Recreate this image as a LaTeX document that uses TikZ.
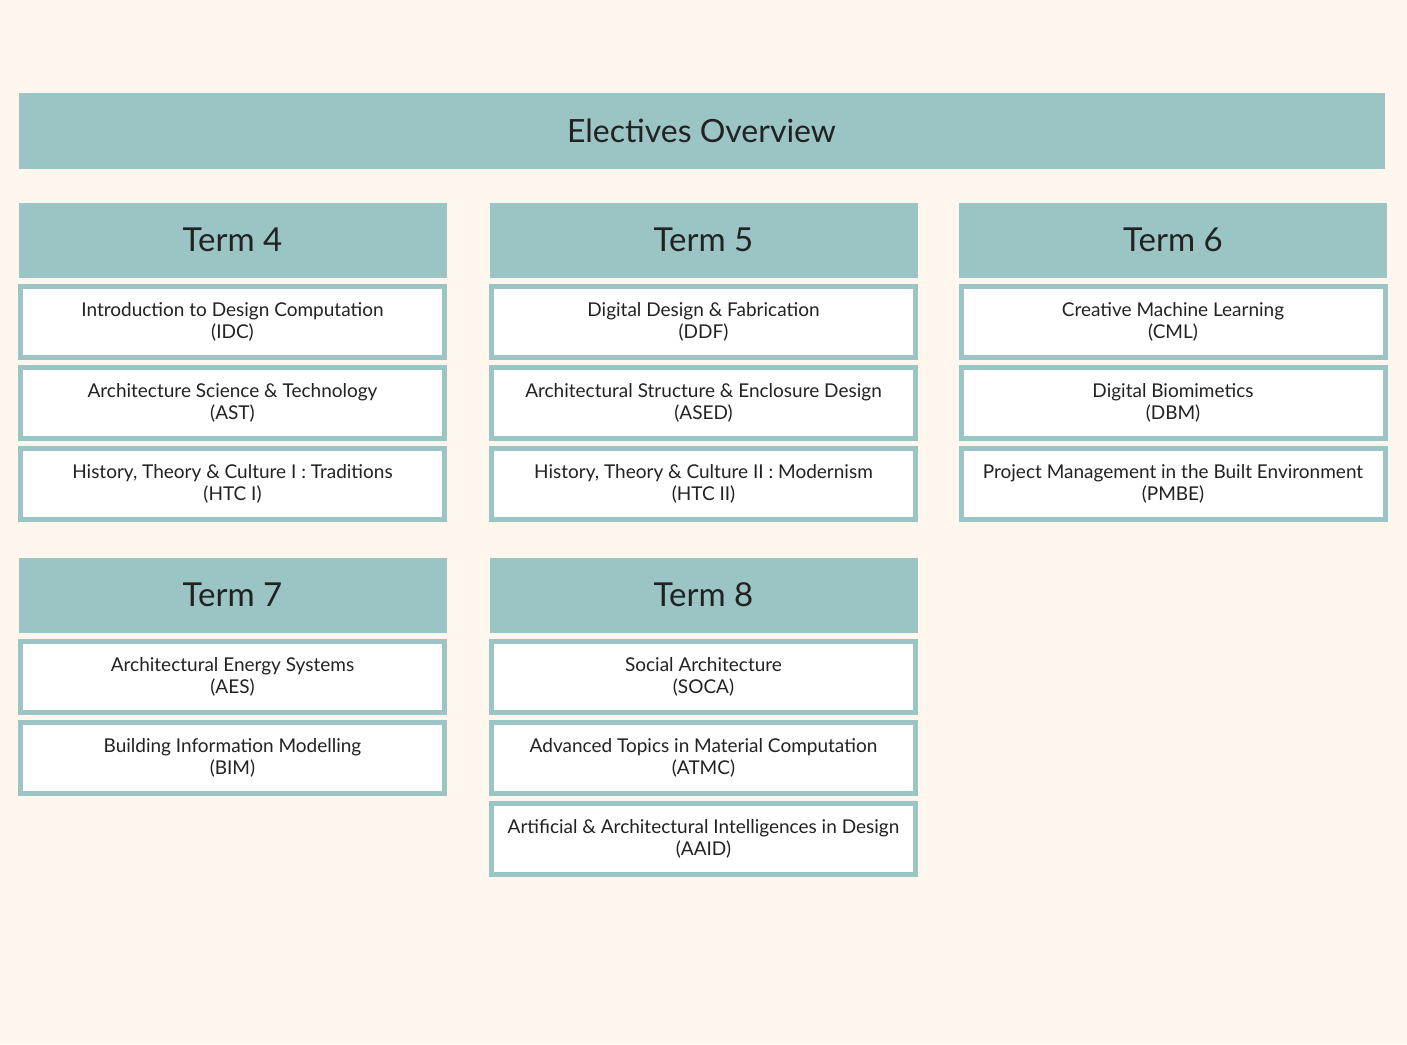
\documentclass[tikz,border=0pt]{standalone}
\usepackage{fontspec}
\setmainfont{Lato}
\definecolor{tealbox}{RGB}{154,197,196}
\definecolor{cream}{RGB}{255,247,238}
\definecolor{ink}{RGB}{34,34,34}
\tikzstyle{title}=[fill=tealbox, draw=cream, line width=1pt, minimum width=1367pt, minimum height=77pt, inner sep=0pt, text=ink, font=\fontsize{32}{38}\selectfont]
\tikzstyle{term}=[fill=tealbox, draw=cream, line width=1pt, minimum width=429pt, minimum height=76pt, inner sep=0pt, text=ink, font=\fontsize{33}{38}\selectfont]
\tikzstyle{course}=[fill=white, draw=tealbox, line width=5pt, minimum width=424pt, minimum height=71pt, inner sep=0pt, align=center, text=ink, font=\fontsize{19}{22}\selectfont]

\begin{document}
\begin{tikzpicture}[x=1pt, y=-1pt]
    \fill[cream] (0,0) rectangle (1407,1044);
    \useasboundingbox (0,0) rectangle (1407,1044);

    \node[title] (overview) at (701.5,130.5) {Electives Overview};

    % Term headers
    \foreach \pos/\name/\label in {
                            {(232.5,240)/termfour/Term 4},
                            {(703.5,240)/termfive/Term 5},
                            {(1173,240)/termsix/Term 6},
                            {(232.5,595)/termseven/Term 7},
                            {(703.5,595)/termeight/Term 8}}
        \node[term] (\name) at \pos {\label};

    % Courses of each term
    \foreach \pos/\name/\desc in {
                            {(232.5,321.5)/IDC/{Introduction to Design Computation\\(IDC)}},
                            {(232.5,403)/AST/{Architecture Science \& Technology\\(AST)}},
                            {(232.5,484)/HTCone/{History, Theory \& Culture I : Traditions\\(HTC I)}},
                            {(703.5,321.5)/DDF/{Digital Design \& Fabrication\\(DDF)}},
                            {(703.5,403)/ASED/{Architectural Structure \& Enclosure Design\\(ASED)}},
                            {(703.5,484)/HTCtwo/{History, Theory \& Culture II : Modernism\\(HTC II)}},
                            {(1173,321.5)/CML/{Creative Machine Learning\\(CML)}},
                            {(1173,403)/DBM/{Digital Biomimetics\\(DBM)}},
                            {(1173,484)/PMBE/{Project Management in the Built Environment\\(PMBE)}},
                            {(232.5,677)/AES/{Architectural Energy Systems\\(AES)}},
                            {(232.5,758)/BIM/{Building Information Modelling\\(BIM)}},
                            {(703.5,677)/SOCA/{Social Architecture\\(SOCA)}},
                            {(703.5,758)/ATMC/{Advanced Topics in Material Computation\\(ATMC)}},
                            {(703.5,839)/AAID/{Artificial \& Architectural Intelligences in Design\\(AAID)}}}
        \node[course] (\name) at \pos {\desc};

\end{tikzpicture}
\end{document}
